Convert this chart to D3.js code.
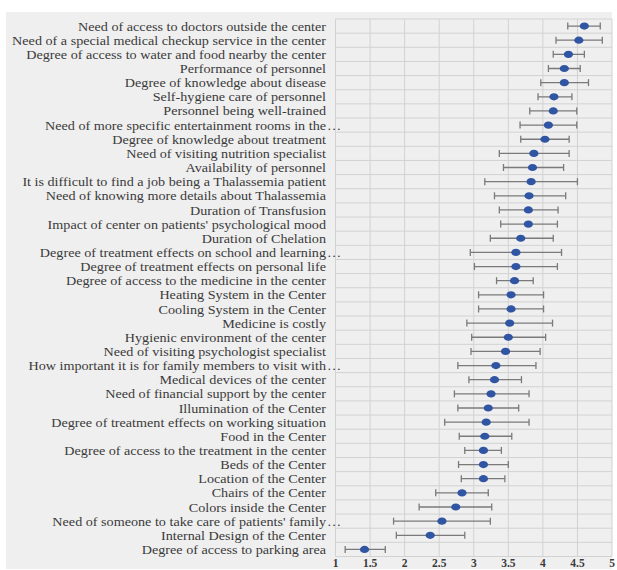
<!DOCTYPE html>
<html>
<head>
<meta charset="utf-8">
<script src="https://cdn.jsdelivr.net/npm/d3@7"></script>
<style>
  html, body { margin: 0; padding: 0; background: #ffffff; }
  svg { display: block; }
  text { font-family: "Liberation Serif", "Times New Roman", serif; fill: #3a3a3a; }
</style>
</head>
<body>
<svg id="chart" width="617" height="570"></svg>
<script>
// Items, top to bottom; a trailing "…" marks a label that was cut short
const items = [
  "Need of access to doctors outside the center",
  "Need of a special medical checkup service in the center",
  "Degree of access to water and food nearby the center",
  "Performance of personnel",
  "Degree of knowledge about disease",
  "Self-hygiene care of personnel",
  "Personnel being well-trained",
  "Need of more specific entertainment rooms in the…",
  "Degree of knowledge about treatment",
  "Need of visiting nutrition specialist",
  "Availability of personnel",
  "It is difficult to find a job being a Thalassemia patient",
  "Need of knowing more details about Thalassemia",
  "Duration of Transfusion",
  "Impact of center on patients' psychological mood",
  "Duration of Chelation",
  "Degree of treatment effects on school and learning…",
  "Degree of treatment effects on personal life",
  "Degree of access to the medicine in the center",
  "Heating System in the Center",
  "Cooling System in the Center",
  "Medicine is costly",
  "Hygienic environment of the center",
  "Need of visiting psychologist specialist",
  "How important it is for family members to visit with…",
  "Medical devices of the center",
  "Need of financial support by the center",
  "Illumination of the Center",
  "Degree of treatment effects on working situation",
  "Food in the Center",
  "Degree of access to the treatment in the center",
  "Beds of the Center",
  "Location of the Center",
  "Chairs of the Center",
  "Colors inside the Center",
  "Need of someone to take care of patients' family…",
  "Internal Design of the Center",
  "Degree of access to parking area"
];

// Mean score per item
const means = [
  4.60, 4.52, 4.37, 4.31, 4.31, 4.16, 4.15, 4.08, 4.03, 3.87,
  3.85, 3.83, 3.80, 3.79, 3.79, 3.68, 3.61, 3.61, 3.59, 3.54,
  3.54, 3.52, 3.50, 3.46, 3.32, 3.30, 3.25, 3.21, 3.18, 3.16,
  3.14, 3.14, 3.14, 2.83, 2.74, 2.54, 2.37, 1.42
];

// Lower and upper ends of each interval
const lower = [
  4.36, 4.19, 4.15, 4.08, 3.97, 3.93, 3.81, 3.67, 3.68, 3.37,
  3.43, 3.16, 3.30, 3.37, 3.39, 3.24, 2.95, 3.01, 3.33, 3.07,
  3.07, 2.90, 2.97, 2.96, 2.77, 2.93, 2.72, 2.77, 2.58, 2.79,
  2.87, 2.78, 2.82, 2.45, 2.21, 1.84, 1.88, 1.14
];
const upper = [
  4.83, 4.86, 4.60, 4.54, 4.66, 4.42, 4.49, 4.49, 4.38, 4.38,
  4.30, 4.50, 4.33, 4.22, 4.21, 4.15, 4.27, 4.21, 3.86, 4.01,
  4.01, 4.14, 4.04, 3.96, 3.90, 3.69, 3.80, 3.65, 3.80, 3.55,
  3.40, 3.50, 3.45, 3.21, 3.26, 3.24, 2.87, 1.72
];

const xTicks = [1, 1.5, 2, 2.5, 3, 3.5, 4, 4.5, 5];

const rows = items.map((name, i) => ({ name, mean: means[i], lo: lower[i], hi: upper[i] }));

const svg = d3.select("#chart");
const plot = { left: 335.5, right: 612, top: 19, bottom: 556.5 };

// Figure background
svg.append("rect")
  .attr("x", 6).attr("y", 12).attr("width", 606).attr("height", 557)
  .attr("fill", "#efefef");

const x = d3.scaleLinear().domain([1, 5]).range([plot.left, plot.right]);
const y = d3.scaleBand().domain(items).range([plot.top, plot.bottom]).padding(0);

// Vertical grid
svg.append("g")
  .selectAll("line").data(xTicks).join("line")
  .attr("x1", d => x(d)).attr("x2", d => x(d))
  .attr("y1", plot.top).attr("y2", plot.bottom)
  .attr("stroke", "#d2d2d2").attr("stroke-width", 1);

// Horizontal row separators
const bounds = items.map(d => y(d)).concat([plot.bottom]);
svg.append("g")
  .selectAll("line").data(bounds).join("line")
  .attr("x1", plot.left).attr("x2", plot.right)
  .attr("y1", d => d).attr("y2", d => d)
  .attr("stroke", "#d2d2d2").attr("stroke-width", 1);

// Category labels, set in a slightly widened serif face
const labelX = 326;
const stretch = 1.09;
const lab = svg.append("g").selectAll("g").data(rows).join("g")
  .attr("transform", d => `translate(${labelX},${y(d.name) + y.bandwidth() / 2}) scale(${stretch},1)`);
lab.append("text")
  .attr("x", 0).attr("dy", "0.35em")
  .attr("text-anchor", "end")
  .attr("font-size", 13)
  .text(d => d.name.replace("…", ""));
lab.filter(d => d.name.endsWith("…")).append("text")
  .attr("x", 1).attr("dy", "0.35em")
  .attr("font-size", 13)
  .text("…");

// Intervals with end caps
const bars = svg.append("g").selectAll("g").data(rows).join("g")
  .attr("transform", d => `translate(0,${y(d.name) + y.bandwidth() / 2})`)
  .attr("stroke", "#7a7a7a").attr("stroke-width", 1.3);
bars.append("line").attr("x1", d => x(d.lo)).attr("x2", d => x(d.hi)).attr("y1", 0).attr("y2", 0);
bars.append("line").attr("x1", d => x(d.lo)).attr("x2", d => x(d.lo)).attr("y1", -3.5).attr("y2", 3.5);
bars.append("line").attr("x1", d => x(d.hi)).attr("x2", d => x(d.hi)).attr("y1", -3.5).attr("y2", 3.5);

// Mean markers
svg.append("g").selectAll("ellipse").data(rows).join("ellipse")
  .attr("cx", d => x(d.mean))
  .attr("cy", d => y(d.name) + y.bandwidth() / 2)
  .attr("rx", 4.6).attr("ry", 3.6)
  .attr("fill", "#2f55a3");

// X axis labels
svg.append("g").selectAll("text").data(xTicks).join("text")
  .attr("x", d => x(d)).attr("y", 563)
  .attr("dy", "0.35em")
  .attr("text-anchor", "middle")
  .attr("font-size", 11.5)
  .attr("font-weight", "bold")
  .attr("fill", "#3a3a3a")
  .text(d => d3.format("")(d));
</script>
</body>
</html>
